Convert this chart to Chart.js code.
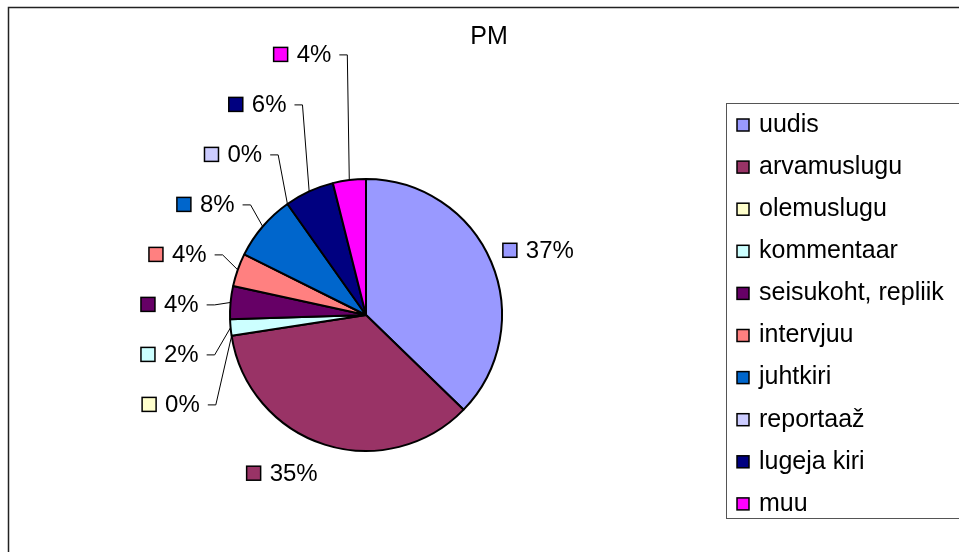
<!DOCTYPE html>
<html>
<head>
<meta charset="utf-8">
<script src="https://cdn.jsdelivr.net/npm/chart.js@4.4.1/dist/chart.umd.min.js"></script>
<style>
  html, body { margin: 0; padding: 0; background: #fff; }
  #wrap { width: 959px; height: 552px; position: relative; }
</style>
</head>
<body>
<div id="wrap"><canvas id="pieChart"></canvas></div>
<script>
const chartTitle = "PM";
const categories = [
  "uudis", "arvamuslugu", "olemuslugu", "kommentaar", "seisukoht, repliik",
  "intervjuu", "juhtkiri", "reportaaž", "lugeja kiri", "muu"
];
const counts = [19, 18, 0, 1, 2, 2, 4, 0, 3, 2];
const sliceColors = [
  "#9999FF", "#993366", "#FFFFCC", "#CCFFFF", "#660066",
  "#FF8080", "#0066CC", "#CCCCFF", "#000080", "#FF00FF"
];

const FONT = "Liberation Sans, Arial, sans-serif";
const total = counts.reduce((a, b) => a + b, 0);

function pctText(v) {
  return Math.round((v / total) * 100) + "%";
}

function drawKey(ctx, x, y, color, size) {
  ctx.fillStyle = color;
  ctx.fillRect(x, y - size / 2, size, size);
  ctx.strokeStyle = "#000";
  ctx.lineWidth = 1.5;
  ctx.strokeRect(x, y - size / 2, size, size);
}

// frame, title, legend and data labels, drawn in the Excel way
const excelDecor = {
  id: "excelDecor",
  afterDraw(chart) {
    const ctx = chart.ctx;
    ctx.save();

    // outer frame (only top and left show in the picture)
    ctx.strokeStyle = "#222";
    ctx.lineWidth = 1.5;
    ctx.beginPath();
    ctx.moveTo(8.5, 560);
    ctx.lineTo(8.5, 7.5);
    ctx.lineTo(970, 7.5);
    ctx.stroke();

    // title
    ctx.fillStyle = "#000";
    ctx.font = "25px " + FONT;
    ctx.textAlign = "center";
    ctx.textBaseline = "middle";
    ctx.fillText(chartTitle, 489, 37);

    // legend
    ctx.strokeStyle = "#555";
    ctx.lineWidth = 1;
    ctx.strokeRect(726.5, 103.5, 260, 415);
    ctx.textAlign = "left";
    categories.forEach((name, i) => {
      const y = 125 + i * 42.1;
      drawKey(ctx, 737, y, sliceColors[i], 12);
      ctx.fillStyle = "#000";
      ctx.fillText(name, 759, y);
    });

    // data labels
    const arcs = chart.getDatasetMeta(0).data;
    const info = arcs.map((arc, i) => {
      const mid = (arc.startAngle + arc.endAngle) / 2;
      const R = arc.outerRadius;
      return {
        i, mid,
        c: Math.cos(mid), s: Math.sin(mid),
        ex: arc.x + R * Math.cos(mid), ey: arc.y + R * Math.sin(mid),
        nx: arc.x + (R + 30) * Math.cos(mid), ny: arc.y + (R + 30) * Math.sin(mid),
        sy: arc.y + (R + 34) * Math.sin(mid)
      };
    });

    // labels crowded on the upper left get stacked around the biggest of them
    const stack = info.filter(d => d.c < 0 && d.s < 0.7).sort((a, b) => b.sy - a.sy);
    let anchor = 0;
    stack.forEach((d, k) => { if (counts[d.i] > counts[stack[anchor].i]) anchor = k; });
    const gap = 50;
    stack.forEach((d, k) => { d.stackY = stack[anchor].sy - (k - anchor) * gap; });

    ctx.font = "24px " + FONT;
    ctx.textBaseline = "middle";
    info.forEach(d => {
      const txt = pctText(counts[d.i]);
      const tw = ctx.measureText(txt).width;
      const key = 14, sp = 9;
      let left, y;
      if (d.stackY !== undefined) {
        y = d.stackY;
        const right = d.ex - (16 + 16 * Math.abs(d.c));
        left = right - tw - sp - key;
        const x0 = right + 8;
        const x1 = Math.min(x0 + 8, d.ex);
        ctx.strokeStyle = "#000";
        ctx.lineWidth = 1;
        ctx.beginPath();
        ctx.moveTo(x0, y + 0.5);
        ctx.lineTo(x1, y + 0.5);
        ctx.lineTo(d.ex, d.ey);
        ctx.stroke();
      } else {
        y = d.ny;
        left = d.c >= 0 ? d.nx - 16 : d.nx + 2 - tw - sp - key;
      }
      drawKey(ctx, left, y, sliceColors[d.i], key);
      ctx.fillStyle = "#000";
      ctx.textAlign = "left";
      ctx.fillText(txt, left + key + sp, y + 1);
    });

    ctx.restore();
  }
};

new Chart(document.getElementById("pieChart"), {
  type: "pie",
  data: {
    labels: categories,
    datasets: [{
      data: counts,
      backgroundColor: sliceColors,
      borderColor: "#000",
      borderWidth: 2,
      hoverOffset: 0
    }]
  },
  options: {
    responsive: true,
    maintainAspectRatio: false,
    animation: false,
    events: [],
    layout: { padding: { left: 229, right: 456, top: 178, bottom: 100 } },
    plugins: {
      legend: { display: false },
      tooltip: { enabled: false }
    }
  },
  plugins: [excelDecor]
});
</script>
</body>
</html>
